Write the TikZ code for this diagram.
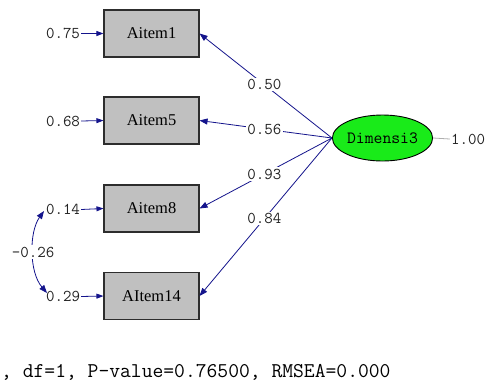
\documentclass[tikz,border=0pt]{standalone}
\usepackage{fontspec}
\setmainfont{Liberation Serif}
\usetikzlibrary{arrows.meta,shapes.geometric}

\definecolor{pathblue}{RGB}{20,20,140}
\definecolor{boxgray}{RGB}{192,192,192}
\definecolor{boxline}{RGB}{45,45,45}
\definecolor{latgreen}{RGB}{25,235,25}
\definecolor{numtext}{RGB}{35,35,35}
\definecolor{varline}{RGB}{175,175,175}

\tikzset{
  obsbox/.style={draw=boxline, line width=1.1pt, fill=boxgray,
    minimum width=95pt, minimum height=47pt, inner sep=0pt,
    font=\fontsize{16.5}{18}\selectfont},
  latent/.style={ellipse, draw=black, line width=0.9pt, fill=latgreen,
    minimum width=93pt, minimum height=46pt, inner sep=0pt,
    font=\ttfamily\fontsize{17.2}{19}\selectfont},
  numlbl/.style={text=numtext, inner sep=1pt,
    font=\ttfamily\fontsize{16.5}{18}\selectfont},
  onpath/.style={numlbl, fill=white, inner sep=1.5pt},
  tip/.style={-{Triangle[length=8pt,width=6pt]}},
  loading/.style={draw=pathblue, line width=0.8pt, tip},
  errarrow/.style={draw=pathblue, line width=0.8pt,
    -{Triangle[length=7pt,width=5pt]}},
  covarrow/.style={draw=pathblue, line width=0.8pt,
    {Triangle[length=8pt,width=6pt]}-{Triangle[length=8pt,width=6pt]}}
}

\begin{document}
\begin{tikzpicture}[x=1pt,y=-1pt]
\useasboundingbox[fill=white] (0,0) rectangle (490,381);

% observed indicators
\node[obsbox] (a1)  at (151.5, 33.5) {Aitem1};
\node[obsbox] (a5)  at (151.5,120.5) {Aitem5};
\node[obsbox] (a8)  at (151.5,208.5) {Aitem8};
\node[obsbox] (a14) at (151.5,296)   {AItem14};

% latent factor and its variance
\node[latent] (d) at (382.5,138) {Dimensi3};
\node[numlbl] (dv) at (468,139) {1.00};
\draw[varline, line width=0.8pt] (d.east) -- (dv.west);

% error variances
\node[numlbl] (e1)  at (63, 33.5) {0.75};
\node[numlbl] (e5)  at (63,121)   {0.68};
\node[numlbl] (e8)  at (63,209.5) {0.14};
\node[numlbl] (e14) at (63,296.5) {0.29};
\draw[errarrow] (e1.east)  -- (a1.west);
\draw[errarrow] (e5.east)  -- (a5.west);
\draw[errarrow] (e8.east)  -- (a8.west);
\draw[errarrow] (e14.east) -- (a14.west);

% factor loadings
\draw[loading] (d.west) -- node[onpath, pos=0.51] (l1)  {0.50} (a1.east);
\draw[loading] (d.west) -- node[onpath, pos=0.51] (l5)  {0.56} (a5.east);
\draw[loading] (d.west) -- node[onpath, pos=0.51] (l8)  {0.93} (a8.east);
\draw[loading] (d.west) -- node[onpath, pos=0.51] (l14) {0.84} (a14.east);

% error covariance
\coordinate (c8)  at (44,211);
\coordinate (c14) at (47,293);
\draw[covarrow] (c8) .. controls (29,232) and (29,272) ..
  node[onpath, pos=0.5] (cv) {-0.26} (c14);

% fit statistics
\node[anchor=base west, inner sep=0pt, text=black,
  font=\ttfamily\fontsize{21}{23}\selectfont] (fit) at (1,377)
  {, df=1, P-value=0.76500, RMSEA=0.000};
\end{tikzpicture}
\end{document}
